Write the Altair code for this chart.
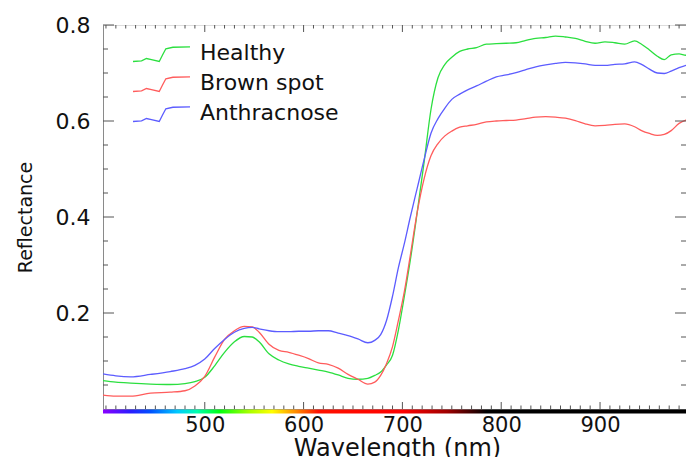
import altair as alt
import pandas as pd

# ---------------- data ----------------
wavelength = [397, 410, 425, 445, 465, 480, 490, 500,
              510, 520, 530, 540, 548, 555, 565, 575,
              585, 595, 605, 615, 625, 635, 645, 655,
              665, 672, 678, 684, 690, 696, 702, 708,
              715, 722, 729, 736, 743, 750, 758, 766,
              775, 785, 795, 805, 815, 825, 835, 845,
              855, 865, 875, 885, 895, 905, 915, 925,
              935, 942, 950, 958, 965, 972, 980, 987,
              994]

healthy = [0.059, 0.056, 0.054, 0.052, 0.051, 0.053, 0.057, 0.066,
           0.090, 0.118, 0.140, 0.151, 0.150, 0.140, 0.115, 0.102,
           0.094, 0.089, 0.085, 0.081, 0.077, 0.071, 0.064, 0.062,
           0.064, 0.070, 0.077, 0.092, 0.112, 0.165, 0.235, 0.310,
           0.410, 0.515, 0.625, 0.690, 0.718, 0.733, 0.745, 0.750,
           0.753, 0.760, 0.761, 0.762, 0.763, 0.768, 0.772, 0.774,
           0.777, 0.775, 0.772, 0.766, 0.762, 0.765, 0.763, 0.760,
           0.767, 0.760, 0.748, 0.735, 0.728, 0.738, 0.740, 0.737,
           0.755]

brown_spot = [0.029, 0.027, 0.027, 0.033, 0.035, 0.038, 0.048, 0.068,
              0.108, 0.145, 0.163, 0.172, 0.171, 0.160, 0.135, 0.122,
              0.118, 0.112, 0.105, 0.096, 0.093, 0.085, 0.072, 0.062,
              0.052, 0.056, 0.070, 0.095, 0.130, 0.185, 0.245, 0.320,
              0.410, 0.480, 0.528, 0.553, 0.569, 0.579, 0.587, 0.590,
              0.593, 0.598, 0.600, 0.601, 0.602, 0.605, 0.608, 0.609,
              0.608, 0.606, 0.601, 0.594, 0.590, 0.591, 0.593, 0.594,
              0.588, 0.580, 0.574, 0.570, 0.572, 0.580, 0.595, 0.602,
              0.605]

anthracnose = [0.073, 0.069, 0.067, 0.072, 0.078, 0.084, 0.091, 0.104,
               0.126, 0.145, 0.160, 0.168, 0.170, 0.167, 0.163, 0.161,
               0.161, 0.162, 0.162, 0.163, 0.163, 0.158, 0.153, 0.146,
               0.138, 0.143, 0.155, 0.185, 0.235, 0.295, 0.345, 0.400,
               0.460, 0.520, 0.575, 0.605, 0.627, 0.645, 0.656, 0.665,
               0.673, 0.683, 0.692, 0.696, 0.701, 0.707, 0.713, 0.717,
               0.720, 0.722, 0.721, 0.719, 0.716, 0.716, 0.718, 0.719,
               0.723, 0.718, 0.708, 0.700, 0.699, 0.704, 0.711, 0.716,
               0.719]

series_names = ["Healthy", "Brown spot", "Anthracnose"]
series_colors = ["#2bdf3f", "#ff5c5c", "#5c5cff"]

x_major = [500, 600, 700, 800, 900]
x_minor = [400, 410, 420, 430, 440, 450, 460, 470, 480, 490,
           510, 520, 530, 540, 550, 560, 570, 580, 590,
           610, 620, 630, 640, 650, 660, 670, 680, 690,
           710, 720, 730, 740, 750, 760, 770, 780, 790,
           810, 820, 830, 840, 850, 860, 870, 880, 890,
           910, 920, 930, 940, 950, 960, 970, 980]
y_major = [0.2, 0.4, 0.6, 0.8]
y_minor = [0.05, 0.1, 0.15, 0.25, 0.3, 0.35, 0.45, 0.5, 0.55, 0.65, 0.7, 0.75]

# visible-spectrum strip below the axis
spectrum_nm = [397, 425, 445, 472, 492, 515, 545, 568, 592, 615, 700, 745, 785, 987]
spectrum_col = ["#8a00ff", "#2a1cff", "#0050ff", "#00c8ff", "#00ffb0", "#00ff10",
                "#a8ff00", "#ffff00", "#ff8c00", "#ff1000", "#ff0000", "#a00000",
                "#000000", "#000000"]

X_MIN, X_MAX = 397, 987
PLOT_W, PLOT_H = 583, 384
FONT = "DejaVu Sans"
TICK_COLOR = "#555555"

# ---------------- build the table ----------------
rows = []
for name, vals in zip(series_names, [healthy, brown_spot, anthracnose]):
    for w, v in zip(wavelength, vals):
        rows.append({"wavelength": w, "reflectance": v, "series": name})
df = pd.DataFrame(rows)

xs = alt.Scale(domain=[X_MIN, X_MAX], nice=False, zero=False)
ys = alt.Scale(domain=[0, 0.8], nice=False, zero=False)

# small spectral-curve glyph used as legend symbol
legend_path = ("M-1.9,0.6 L-1.33,0.56 L-1.0,0.4 L-0.67,0.47 L-0.15,0.6 "
               "L0.06,0.18 L0.29,-0.25 L0.76,-0.35 L1.9,-0.37")

lines = alt.Chart(df).mark_line(strokeWidth=1.3, interpolate="monotone", clip=True).encode(
    x=alt.X("wavelength:Q", scale=xs,
            axis=alt.Axis(orient="bottom", values=x_major, ticks=False, grid=False,
                          domain=True, domainColor="#8a8a8a",
                          labelFont=FONT, labelFontSize=21, labelColor="#111",
                          labelPadding=5, labelFlush=False,
                          title="Wavelength (nm)", titleFont=FONT, titleFontSize=24,
                          titleFontWeight="normal", titleColor="#111",
                          titleX=294, titleY=46, titleBaseline="alphabetic")),
    y=alt.Y("reflectance:Q", scale=ys,
            axis=alt.Axis(orient="left", values=y_major, ticks=False, grid=False,
                          domain=True, domainColor="#8a8a8a",
                          labelFont=FONT, labelFontSize=22, labelColor="#111",
                          labelPadding=13, labelFlush=False, format=".1f",
                          title="Reflectance", titleFont=FONT, titleFontSize=19,
                          titleFontWeight="normal", titleColor="#111",
                          titlePadding=20)),
    color=alt.Color("series:N",
                    scale=alt.Scale(domain=series_names, range=series_colors),
                    legend=alt.Legend(orient="none", legendX=42.5, legendY=11.5,
                                      title=None, padding=0,
                                      symbolType=legend_path, symbolSize=900,
                                      symbolStrokeWidth=1.3,
                                      symbolFillColor="transparent",
                                      labelFont=FONT, labelFontSize=22,
                                      labelColor="#111", labelOffset=22.5,
                                      rowPadding=2)),
)


def x_ticks(vals, length, at_top):
    y0 = 0 if at_top else PLOT_H
    y1 = length if at_top else PLOT_H - length
    return alt.Chart(pd.DataFrame({"v": vals})).mark_rule(
        color=TICK_COLOR, strokeWidth=1
    ).encode(x=alt.X("v:Q", scale=xs, axis=None), y=alt.value(y0), y2=alt.value(y1))


def y_ticks(vals, length, at_right):
    x0 = PLOT_W if at_right else 0
    x1 = PLOT_W - length if at_right else length
    return alt.Chart(pd.DataFrame({"v": vals})).mark_rule(
        color=TICK_COLOR, strokeWidth=1
    ).encode(y=alt.Y("v:Q", scale=ys, axis=None), x=alt.value(x0), x2=alt.value(x1))


ticks = [
    x_ticks(x_minor, 3.5, False), x_ticks(x_major, 7, False),
    x_ticks(x_minor, 3.5, True), x_ticks(x_major, 7, True),
    y_ticks(y_minor, 5, False), y_ticks(y_major, 11, False),
    y_ticks(y_minor, 5, True), y_ticks(y_major, 11, True),
]

stops = [alt.GradientStop(offset=(w - X_MIN) / (X_MAX - X_MIN), color=c)
         for w, c in zip(spectrum_nm, spectrum_col)]
strip = alt.Chart(pd.DataFrame({"k": [0]})).mark_rect(
    fill=alt.Gradient(gradient="linear", stops=stops, x1=0, x2=1, y1=0, y2=0)
).encode(
    x=alt.value(0), x2=alt.value(PLOT_W),
    y=alt.value(PLOT_H + 0.5), y2=alt.value(PLOT_H + 4.5),
)

chart = alt.layer(lines, *ticks, strip).resolve_axis(
    x="independent", y="independent"
).properties(
    width=PLOT_W, height=PLOT_H,
    autosize=alt.AutoSizeParams(type="none"),
    padding={"left": 95, "top": 17, "right": 0, "bottom": 48},
).configure_view(stroke="#8a8a8a", strokeWidth=1).configure(background="white")

chart.save("out.html", embed_options={"renderer": "svg", "actions": False})
